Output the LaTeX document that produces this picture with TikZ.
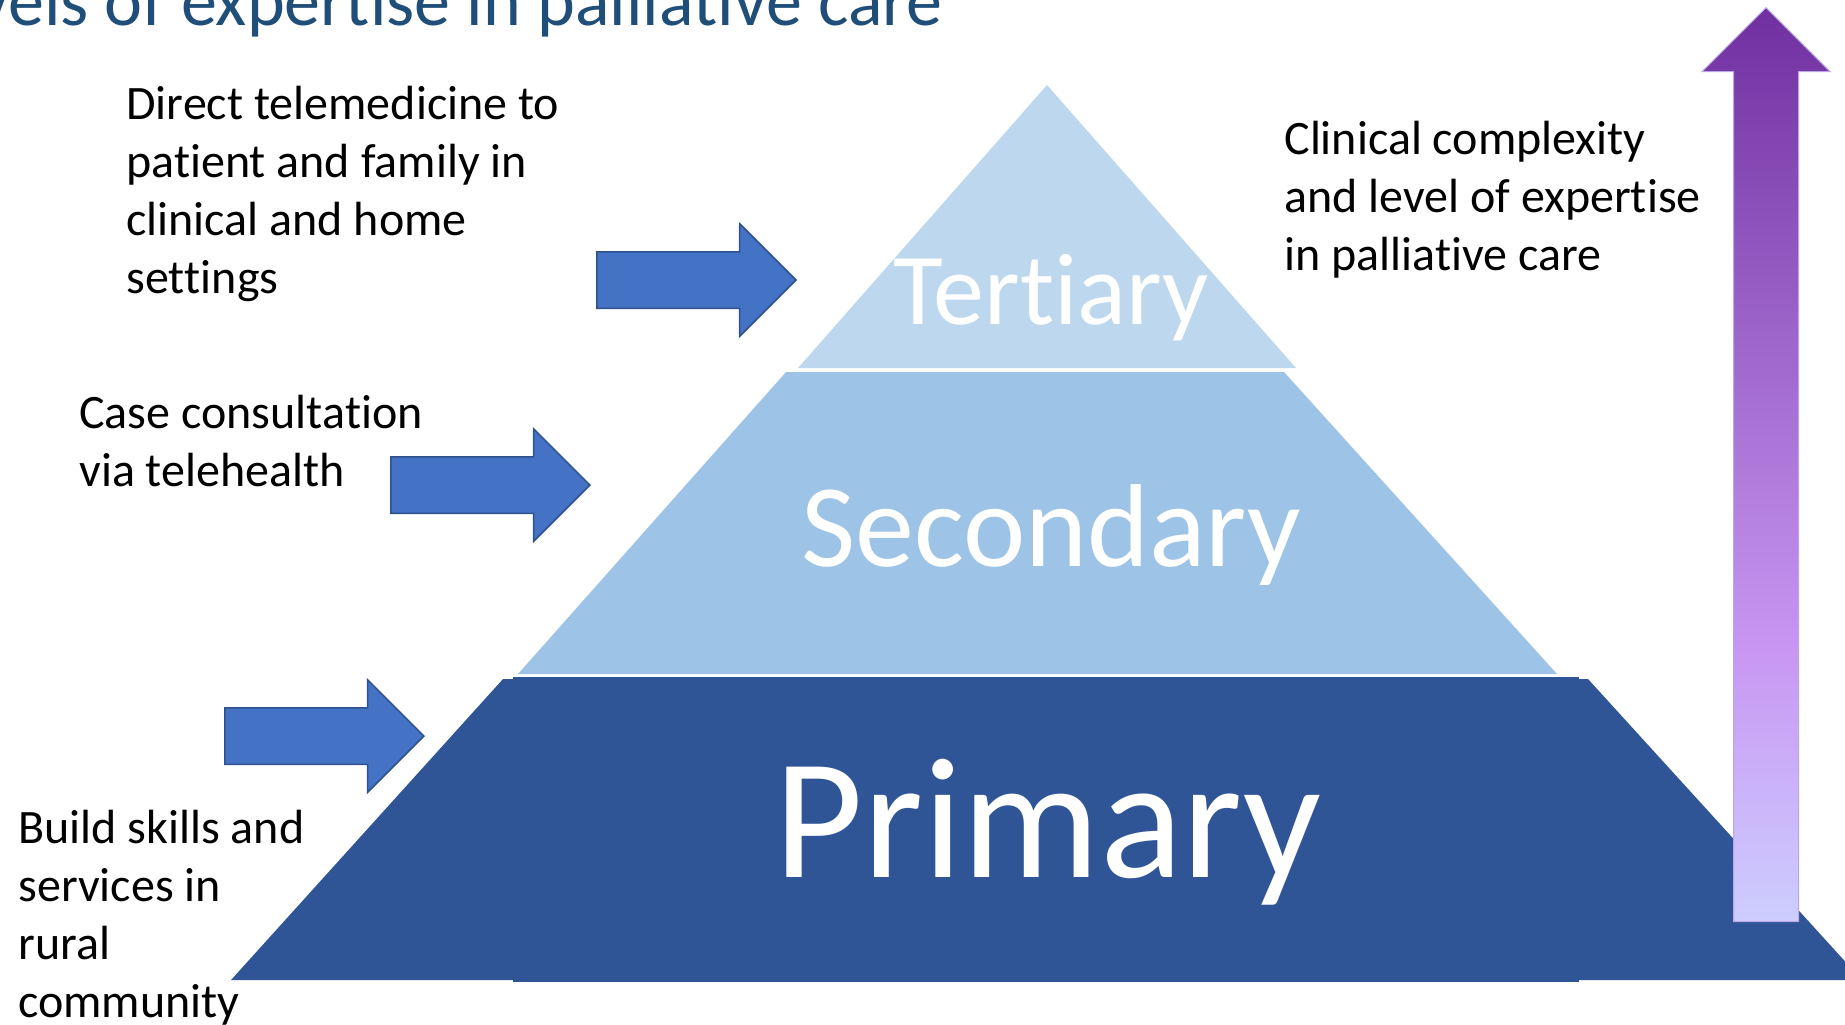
\documentclass[tikz,border=0pt]{standalone}
\usepackage{fontspec}
\setmainfont{Carlito}[Ligatures=NoCommon]
\usetikzlibrary{shapes.arrows}
\definecolor{titleblue}{HTML}{1F4E79}
\definecolor{tertcol}{HTML}{BDD7EE}
\definecolor{secocol}{HTML}{9DC3E6}
\definecolor{primcol}{HTML}{2F5597}
\definecolor{arrfill}{HTML}{4472C4}
\definecolor{arrline}{HTML}{2F528F}
\definecolor{purptop}{HTML}{7030A0}
\definecolor{purpmid}{HTML}{C896F2}
\definecolor{purpbot}{HTML}{CDCEFF}
\definecolor{purpedge}{HTML}{B9A6E6}
\pgfdeclareverticalshading{complexshade}{100bp}{color(0bp)=(purpbot); color(25bp)=(purpbot); color(40bp)=(purpmid); color(75bp)=(purptop); color(100bp)=(purptop)}
\newcommand\txtblock[1]{\begin{tabular}[t]{@{}l@{}}#1\end{tabular}}
\newcommand\nolig{\kern0pt }
\begin{document}
\begin{tikzpicture}[x=0.5pt,y=-0.5pt,
  body/.style={anchor=base west, inner sep=0pt, font=\fontsize{24}{29.1}\selectfont, text=black},
  tier/.style={anchor=base, inner sep=0pt, text=white},
  levelarrow/.style={single arrow, fill=arrfill, draw=arrline, line width=0.75pt, inner sep=13.75pt, single arrow head extend=14pt, minimum height=99.5pt, anchor=tip},
]
\useasboundingbox (0,0) rectangle (1845,1024);
\clip (0,0) rectangle (1845,1024);
% title
\node[anchor=base east, inner sep=0pt, text=titleblue, font=\fontsize{36}{43}\selectfont] (title) at (943,25) {Levels of expertise in pallia\nolig tive care};
% pyramid
\fill[tertcol] (1047,85) -- (1296,368) -- (798,368) -- cycle;
\fill[secocol] (786,372) -- (1284,372) -- (1557,674) -- (518,674) -- cycle;
\fill[primcol] (503,679) -- (1588,679) -- (1862,980) -- (231,980) -- cycle;
\fill[primcol] (513,677) rectangle (1579,982);
\node[tier, font=\fontsize{51}{61}\selectfont] (tertiary) at (1051,324) {Tert\nolig iary};
\node[tier, font=\fontsize{59}{71}\selectfont] (secondary) at (1051,566) {Secondary};
\node[tier, font=\fontsize{86}{103}\selectfont] (primary) at (1048,877) {Primary};
% block arrows
\node[levelarrow] (toTertiary) at (797,280) {};
\node[levelarrow] (toSecondary) at (591,485) {};
\node[levelarrow] (toPrimary) at (425,736) {};
% complexity arrow
\node[single arrow, shape border rotate=90, shade, shading=complexshade, draw=purpedge, line width=0.5pt, inner sep=16pt, single arrow head extend=15.75pt, minimum height=457pt, anchor=tip] (complexity) at (1766,7) {};
% texts
\node[body] (telemed) at (126,119) {\txtblock{Direct telemedicine to\\ patient and family in\\ clinical and home\\ set\nolig tings}};
\node[body] (complexText) at (1284,154) {\txtblock{Clinical complexity\\ and level of expertise\\ in pallia\nolig tive care}};
\node[body] (consult) at (79,428) {\txtblock{Case consulta\nolig tion\\ via telehealth}};
\node[body] (build) at (18,843) {\txtblock{Build skills and\\ services in\\ rural\\ community}};
\end{tikzpicture}
\end{document}
